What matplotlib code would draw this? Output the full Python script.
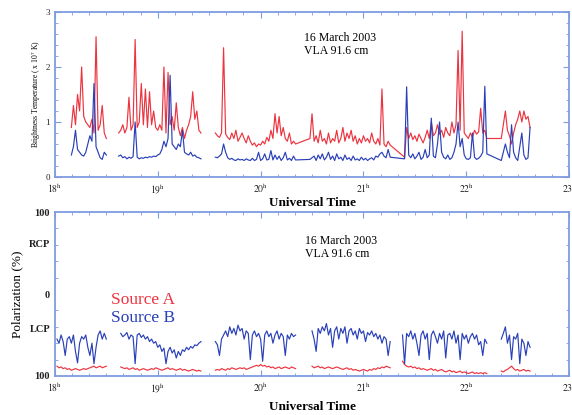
import numpy as np
import matplotlib
matplotlib.use('Agg')
import matplotlib.pyplot as plt
from matplotlib.ticker import MultipleLocator

plt.rcParams['font.family'] = 'Liberation Serif'
plt.rcParams['mathtext.fontset'] = 'stix'

step = 0.02  # hours between samples

# ---- top panel: brightness temperature (x 10^7 K), segments start times
top_starts = [18.16, 18.62, 19.56, 20.48, 21.40, 22.34]
top_red = [
    [0.90, 1.30, 0.95, 1.50, 1.20, 2.00, 1.10, 1.00, 0.95, 0.90, 1.05, 0.80, 2.55, 0.85, 0.95, 1.30, 0.80, 0.70],
    [0.80, 0.85, 0.95, 0.80, 0.90, 1.45, 0.85, 0.95, 2.50, 0.90, 1.00, 1.70, 0.95, 1.60, 0.90, 1.55, 0.95, 1.20,
     0.90, 0.85, 0.95, 0.85, 2.00, 0.80, 1.90, 0.95, 1.10, 0.85, 1.35, 0.90, 0.75, 0.90, 0.70, 0.85, 0.95, 1.10,
     1.55, 1.05, 1.20, 0.85, 0.80],
    [0.80, 0.75, 0.72, 0.80, 2.35, 0.78, 0.72, 0.68, 0.80, 0.70, 0.85, 0.65, 0.72, 0.80, 0.70, 0.62, 0.75, 0.65,
     0.58, 0.62, 0.55, 0.60, 0.58, 0.65, 0.60, 0.72, 0.65, 0.85, 0.70, 1.15, 0.80, 1.10, 0.75, 0.90, 0.70, 0.65,
     0.80, 0.60, 0.65, 0.60],
    [0.70, 1.15, 0.65, 0.75, 0.62, 0.85, 0.65, 0.70, 0.60, 0.80, 0.62, 0.70, 0.65, 0.85, 0.62, 0.70, 0.90, 0.65,
     0.80, 0.70, 0.85, 0.65, 0.75, 0.60, 0.70, 0.62, 0.75, 0.65, 0.70, 0.62, 0.80, 0.65, 0.60, 0.70, 0.58, 1.60,
     0.60, 0.55, 0.65, 0.58],
    [0.36, 0.90, 0.70, 0.80, 0.68, 0.75, 0.65, 0.78, 0.70, 0.62, 0.72, 0.85, 0.70, 1.00, 0.75, 0.80, 0.95, 0.78,
     0.85, 0.72, 0.90, 0.80, 0.75, 1.00, 0.80, 0.95, 2.30, 0.85, 2.65, 0.80, 0.75, 0.70, 0.80, 0.72, 0.85, 0.78,
     0.82, 1.25, 0.80, 0.85, 0.70],
    [0.70, 0.95, 1.20, 0.85, 0.75, 0.60, 0.80, 0.95, 1.05, 1.20, 1.00, 1.20, 1.05, 1.10, 0.90],
]
top_blue = [
    [0.40, 0.55, 0.85, 0.50, 0.45, 0.40, 0.38, 0.45, 0.60, 0.75, 0.65, 1.70, 0.55, 0.45, 0.35, 0.32, 0.45, 0.40],
    [0.38, 0.40, 0.35, 0.37, 0.33, 0.36, 0.34, 0.37, 1.00, 0.36, 0.33, 0.35, 0.34, 0.36, 0.35, 0.37, 0.36, 0.38,
     0.37, 0.40, 0.42, 0.50, 0.65, 0.55, 0.70, 1.85, 0.60, 0.55, 0.50, 0.60, 0.55, 0.85, 0.45, 0.42, 0.40, 0.45,
     0.38, 0.40, 0.36, 0.35, 0.33],
    [0.36, 0.35, 0.38, 0.42, 0.60, 0.45, 0.35, 0.32, 0.34, 0.31, 0.30, 0.33, 0.31, 0.32, 0.30, 0.33, 0.31, 0.30,
     0.34, 0.30, 0.32, 0.45, 0.30, 0.33, 0.42, 0.31, 0.32, 0.48, 0.31, 0.40, 0.32, 0.38, 0.30, 0.35, 0.45, 0.31,
     0.34, 0.30, 0.38, 0.31],
    [0.32, 0.35, 0.38, 0.30, 0.40, 0.33, 0.42, 0.31, 0.36, 0.45, 0.32, 0.38, 0.30, 0.42, 0.33, 0.36, 0.30, 0.40,
     0.32, 0.35, 0.30, 0.38, 0.31, 0.33, 0.30, 0.36, 0.31, 0.34, 0.30, 0.33, 0.35, 0.31, 0.38, 0.36, 0.42, 0.45,
     0.38, 0.35, 0.50, 0.36],
    [0.33, 1.64, 0.40, 0.35, 0.42, 0.33, 0.38, 0.45, 0.32, 0.36, 0.50, 0.35, 0.40, 1.07, 0.38, 0.35, 0.60, 1.00,
     0.45, 0.36, 0.33, 0.40, 0.32, 0.35, 0.45, 0.60, 1.00, 0.55, 0.70, 0.40, 0.33, 0.32, 0.35, 0.80, 0.36, 0.32,
     0.34, 0.38, 0.45, 1.65, 0.42],
    [0.30, 0.45, 0.60, 0.45, 0.35, 0.95, 0.45, 0.35, 0.30, 0.55, 0.80, 0.40, 0.32, 0.35, 0.90],
]
# segments 3->4 and 4->5 of the top panel are joined by straight lines
top_joined = [False, False, False, True, True, True]

# ---- bottom panel: polarization (%), negative = LCP
bot_starts = [18.02, 18.64, 19.56, 20.50, 21.38, 22.34]
bot_red = [
    [-88, -90, -89, -91, -90, -92, -91, -93, -92, -91, -92, -93, -92, -91, -92, -91, -90, -89, -88, -90, -89, -88,
     -90, -89, -88],
    [-89, -90, -91, -90, -92, -91, -90, -92, -91, -93, -92, -91, -92, -93, -92, -91, -92, -90, -91, -92, -93, -92,
     -91, -90, -92, -91, -92, -93, -92, -91, -93, -92, -93, -94, -93, -92, -93, -94, -93, -94],
    [-93, -92, -93, -91, -92, -93, -91, -92, -90, -91, -92, -91, -90, -91, -90, -92, -91, -90, -89, -88, -87, -88,
     -86, -88, -87, -89, -88, -90, -89, -91, -90, -89, -91, -90, -89, -90, -91, -89, -90, -91],
    [-88, -90, -89, -88, -90, -89, -91, -90, -89, -90, -91, -90, -89, -90, -91, -92, -91, -90, -92, -91, -93, -92,
     -93, -94, -93, -92, -93, -94, -92, -93, -91, -92, -90, -91, -89, -90, -88, -89, -90],
    [-82, -86, -88, -89, -88, -90, -89, -91, -90, -92, -91, -92, -93, -92, -91, -93, -92, -94, -93, -92, -94, -95,
     -94, -93, -95, -94, -96, -95, -94, -96, -95, -96, -97, -96, -95, -97, -96, -97, -96, -97, -96, -97],
    [-94, -95, -93, -92, -90, -88, -91, -93, -92, -94, -93, -92, -94, -93, -94],
]
bot_blue = [
    [-55, -60, -50, -58, -75, -55, -52, -60, -50, -70, -84, -60, -52, -55, -50, -65, -75, -60, -85, -65, -50, -45,
     -55, -48, -55],
    [-48, -52, -50, -47, -55, -50, -52, -85, -50, -48, -53, -50, -55, -52, -58, -55, -60, -58, -65, -62, -70, -66,
     -85, -70, -65, -72, -68, -78, -70, -75, -68, -70, -65, -68, -64, -66, -62, -63, -60, -58],
    [-58, -62, -75, -55, -50, -45, -52, -40, -48, -42, -50, -38, -45, -42, -55, -45, -48, -80, -50, -45, -52, -48,
     -55, -82, -50, -45, -52, -48, -60, -50, -45, -55, -48, -52, -75, -50, -55, -48, -52, -50],
    [-45, -55, -70, -42, -48, -40, -45, -36, -50, -42, -65, -45, -40, -55, -42, -48, -40, -60, -45, -42, -50, -45,
     -55, -42, -48, -45, -58, -47, -50, -45, -52, -48, -55, -50, -60, -52, -55, -75, -58],
    [-50, -85, -48, -52, -45, -55, -48, -60, -75, -50, -45, -55, -48, -80, -50, -45, -52, -60, -48, -55, -45, -78,
     -50, -48, -55, -45, -60, -50, -80, -48, -55, -50, -60, -52, -48, -55, -50, -62, -58, -75, -55, -60],
    [-55, -48, -40, -60, -50, -80, -52, -55, -48, -85, -55, -60, -75, -58, -65],
]

hour_ticks = [18, 19, 20, 21, 22, 23]
date_text = '16 March 2003\nVLA 91.6 cm'

red_c = '#ec3440'
blue_c = '#2a40b8'
spine_c = '#7f9be0'


def build_series(starts, values, joined):
    # stitch the segments, putting a gap (nan) where they are not joined
    t_all, v_all = [], []
    for i, (t0, vals) in enumerate(zip(starts, values)):
        if i > 0 and not joined[i]:
            t_all.append(np.nan)
            v_all.append(np.nan)
        t_all.extend(t0 + step * np.arange(len(vals)))
        v_all.extend(vals)
    return np.array(t_all), np.array(v_all)


def style_axes(ax, xpad):
    for s in ax.spines.values():
        s.set_color(spine_c)
        s.set_linewidth(1.3)
    ax.set_xlim(18, 23)
    ax.set_xticks(hour_ticks)
    ax.set_xticklabels([r'$%d^{\mathrm{h}}$' % h for h in hour_ticks], fontsize=7)
    ax.xaxis.set_minor_locator(MultipleLocator(1 / 6))
    ax.tick_params(which='both', direction='in', top=True, right=True, colors=spine_c,
                   labelcolor='#222222')
    ax.tick_params(which='major', length=4)
    ax.tick_params(which='minor', length=2)
    ax.set_xlabel('Universal Time', fontsize=9.5, fontweight='bold', labelpad=xpad)


fig = plt.figure(figsize=(5.72, 4.15), dpi=100)
ax1 = fig.add_axes([0.096, 0.5735, 0.899, 0.3976])
ax2 = fig.add_axes([0.096, 0.094, 0.899, 0.395])

# top panel
joined_bot = [False] * 6
t, v = build_series(top_starts, top_red, top_joined)
ax1.plot(t, v, color=red_c, lw=0.85)
t, v = build_series(top_starts, top_blue, top_joined)
ax1.plot(t, v, color=blue_c, lw=0.85)
style_axes(ax1, 1)
ax1.set_ylim(0, 3)
ax1.set_yticks([0, 1, 2, 3])
ax1.yaxis.set_minor_locator(MultipleLocator(0.2))
ax1.tick_params(axis='y', labelsize=6.5)
ax1.set_ylabel(r'Brightness Temperature ( x 10$^{7}$ K)', fontsize=5.5, labelpad=2)
ax1.text(0.485, 0.88, date_text, transform=ax1.transAxes, fontsize=8.5,
         va='top', ha='left', linespacing=1.15)

# bottom panel
t, v = build_series(bot_starts, bot_red, joined_bot)
ax2.plot(t, v, color=red_c, lw=0.85)
t, v = build_series(bot_starts, bot_blue, joined_bot)
ax2.plot(t, v, color=blue_c, lw=0.85)
style_axes(ax2, 5)
ax2.set_ylim(-100, 100)
ax2.set_yticks([100, 62, 0, -42, -100])
ax2.set_yticklabels(['100', 'RCP', '0', 'LCP', '100'], fontsize=7.5, fontweight='bold')
ax2.yaxis.set_minor_locator(MultipleLocator(20))
ax2.tick_params(axis='y', which='major', length=0)
ax2.set_ylabel('Polarization (%)', fontsize=9.5, labelpad=4)
ax2.text(0.487, 0.86, date_text, transform=ax2.transAxes, fontsize=8.5,
         va='top', ha='left', linespacing=1.15)
ax2.text(0.11, 0.44, 'Source A', transform=ax2.transAxes, fontsize=12.5, color=red_c)
ax2.text(0.11, 0.33, 'Source B', transform=ax2.transAxes, fontsize=12.5, color=blue_c)

plt.savefig('out.png', dpi=100)
